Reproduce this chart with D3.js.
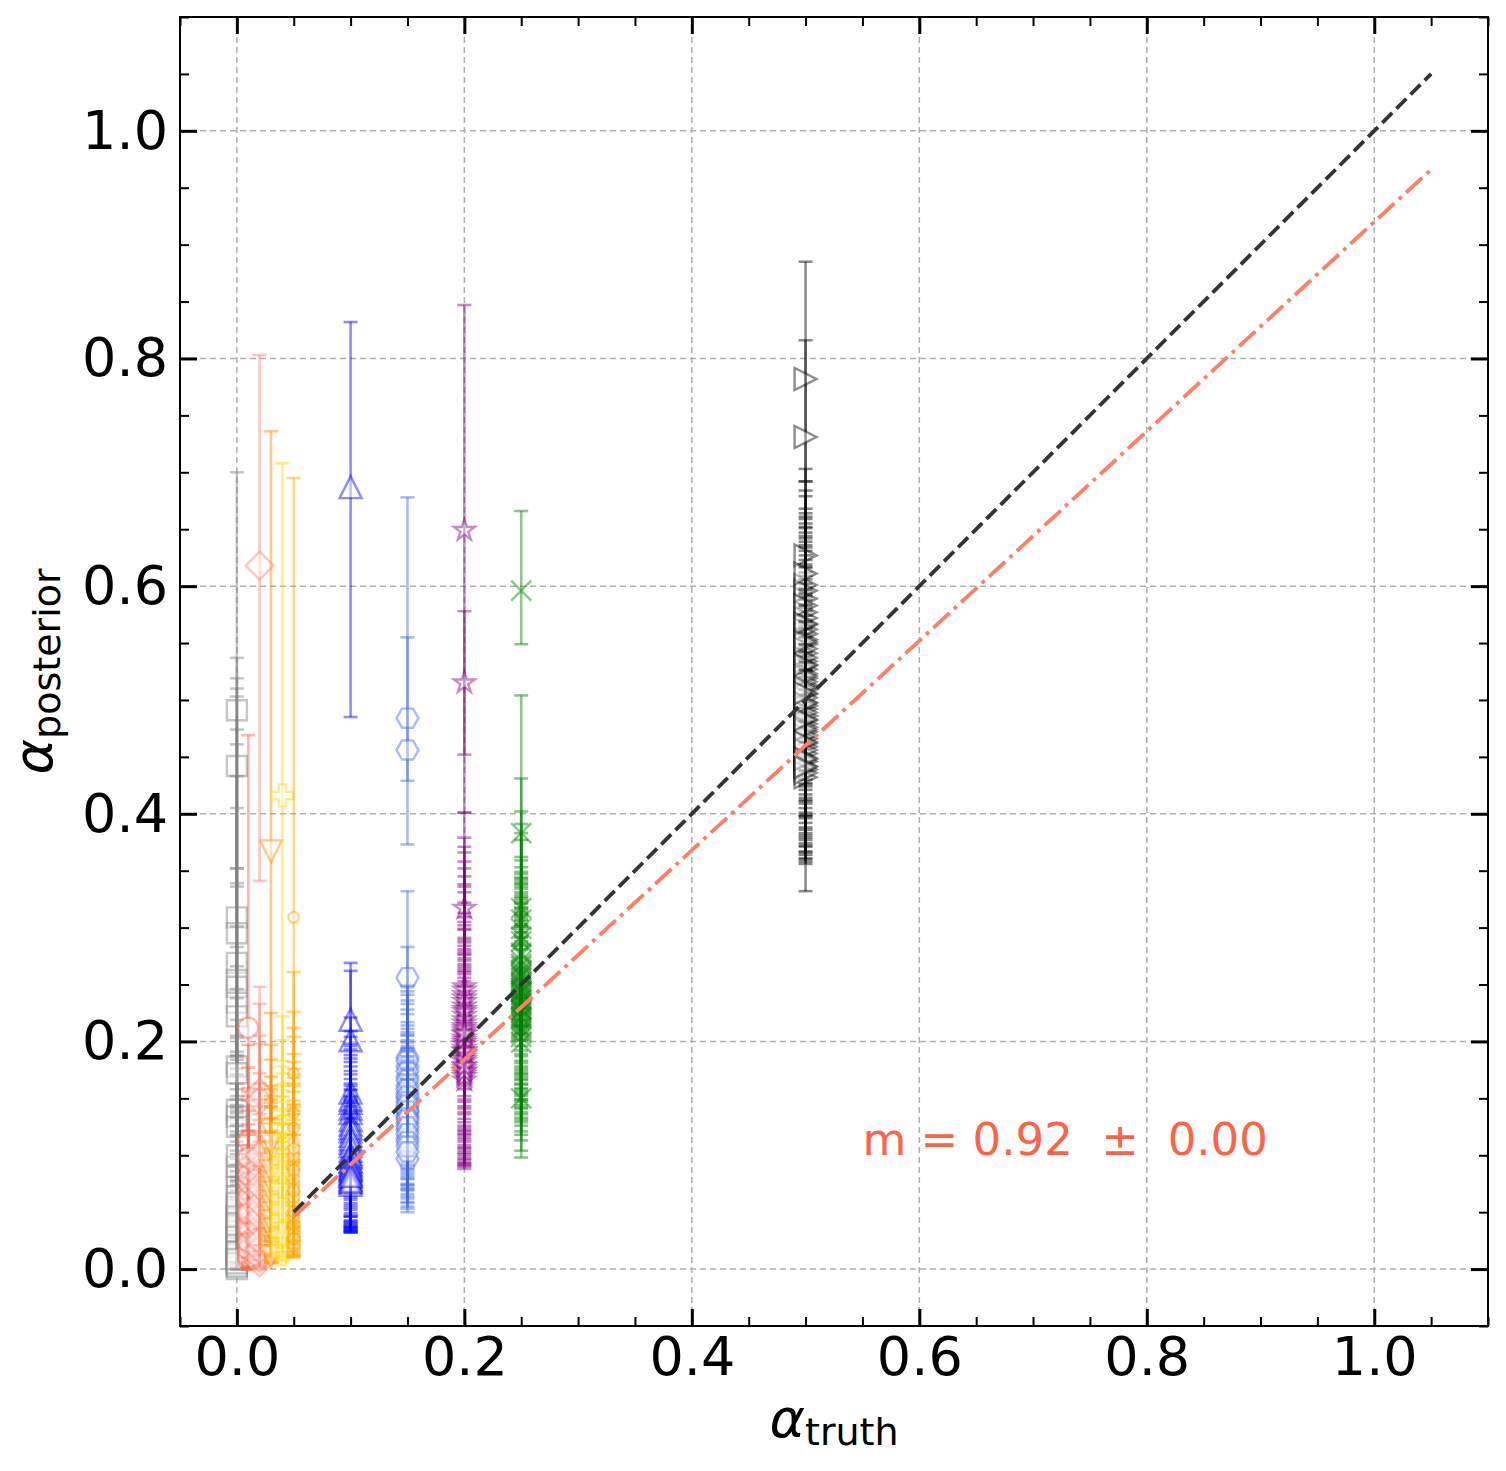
<!DOCTYPE html>
<html>
<head>
<meta charset="utf-8" />
<title>alpha posterior vs alpha truth</title>
<script src="https://d3js.org/d3.v7.min.js"></script>
<style>
    html, body {
        margin: 0;
        padding: 0;
        background-color: #fff;
    }
    svg text {
        font-family: 'DejaVu Sans', sans-serif;
    }
</style>
</head>
<body>
<div id="chart"></div>
<script>
// alpha_truth of each run group, with its colour and marker
var truthValues = [0.0, 0.01, 0.02, 0.03, 0.04, 0.05, 0.1, 0.15, 0.2, 0.25, 0.5];
var groupColors = ["gray", "tomato", "salmon", "darkorange", "gold", "orange", "blue", "royalblue", "purple", "green", "black"];
var groupMarkers = ["square", "circle", "diamond", "triDown", "plus", "smallCircle", "triUp", "hexagon", "star", "cross", "triRight"];

// [posterior, lower, upper]
var post000 = [[0.491,0.336,0.700],[0.442,0.352,0.537],[0.309,0.205,0.519],[0.295,0.188,0.510],[0.269,0.152,0.503],
    [0.254,0.141,0.474],[0.248,0.128,0.461],[0.234,0.117,0.433],[0.222,0.104,0.405],[0.178,0.083,0.352],
    [0.140,0.052,0.301],[0.134,0.061,0.283],[0.125,0.040,0.266],[0.090,0.022,0.238],[0.081,0.012,0.219],
    [0.072,0.009,0.203],[0.055,0.003,0.184],[0.047,0.002,0.163],[0.041,0.001,0.171],[0.034,0.000,0.142],
    [0.027,0.000,0.121],[0.022,0.000,0.133],[0.016,0.000,0.104],[0.011,0.000,0.092],[0.006,0.000,0.081],
    [0.003,0.000,0.069],[0.000,0.000,0.058],[0.052,0.002,0.176],[0.044,0.001,0.149],[0.037,0.000,0.137],
    [0.030,0.000,0.126],[0.019,0.000,0.112],[0.013,0.000,0.097],[0.008,0.000,0.074],[0.002,0.000,0.063],
    [0.064,0.006,0.191],[0.100,0.027,0.246],[0.172,0.078,0.339],[0.025,0.000,0.118],[0.033,0.000,0.139],
    [0.039,0.000,0.144],[0.046,0.001,0.158],[0.058,0.004,0.187],[0.015,0.000,0.101],[0.005,0.000,0.077],
    [0.009,0.000,0.086]];
var post001 = [[0.212,0.118,0.469],[0.113,0.048,0.197],[0.090,0.036,0.159],[0.069,0.021,0.148],[0.058,0.013,0.127],
    [0.046,0.009,0.118],[0.034,0.005,0.097],[0.026,0.002,0.074],[0.019,0.001,0.088],[0.014,0.000,0.079],
    [0.008,0.000,0.062],[0.041,0.007,0.109],[0.030,0.004,0.093],[0.022,0.001,0.083],[0.011,0.000,0.071],
    [0.052,0.011,0.122],[0.063,0.017,0.139],[0.076,0.027,0.152],[0.017,0.001,0.085],[0.024,0.002,0.080],
    [0.037,0.006,0.101],[0.049,0.010,0.121],[0.083,0.031,0.156],[0.098,0.040,0.177]];
var post002 = [[0.618,0.341,0.803],[0.155,0.072,0.248],[0.148,0.063,0.233],[0.090,0.031,0.198],[0.081,0.024,0.172],
    [0.043,0.011,0.131],[0.033,0.006,0.112],[0.023,0.003,0.101],[0.014,0.001,0.087],[0.006,0.000,0.069],
    [0.028,0.004,0.106],[0.019,0.002,0.094],[0.010,0.000,0.078],[0.038,0.008,0.121],[0.052,0.014,0.143],
    [0.067,0.019,0.158],[0.017,0.001,0.091],[0.025,0.003,0.103],[0.046,0.012,0.136],[0.058,0.016,0.149],
    [0.073,0.021,0.163],[0.100,0.035,0.205]];
var post003 = [[0.367,0.142,0.736],[0.122,0.052,0.225],[0.102,0.041,0.184],[0.080,0.031,0.152],[0.064,0.022,0.169],
    [0.055,0.019,0.128],[0.045,0.014,0.113],[0.031,0.010,0.118],[0.020,0.006,0.091],[0.038,0.012,0.106],
    [0.026,0.008,0.098],[0.049,0.016,0.121],[0.071,0.027,0.143],[0.092,0.036,0.161],[0.015,0.006,0.084],
    [0.011,0.005,0.077],[0.034,0.011,0.104],[0.042,0.013,0.111],[0.059,0.021,0.133],[0.067,0.024,0.146],
    [0.076,0.029,0.149],[0.086,0.033,0.158],[0.110,0.045,0.197]];
var post004 = [[0.416,0.183,0.708],[0.125,0.049,0.222],[0.102,0.038,0.201],[0.088,0.034,0.161],[0.075,0.029,0.178],
    [0.064,0.024,0.139],[0.055,0.019,0.152],[0.046,0.016,0.112],[0.037,0.012,0.119],[0.028,0.010,0.093],
    [0.033,0.011,0.106],[0.041,0.014,0.115],[0.051,0.018,0.128],[0.059,0.021,0.135],[0.069,0.026,0.147],
    [0.081,0.031,0.157],[0.095,0.036,0.172],[0.023,0.010,0.088],[0.013,0.006,0.079],[0.018,0.008,0.084],
    [0.062,0.023,0.141],[0.072,0.027,0.151],[0.085,0.032,0.163],[0.044,0.015,0.117],[0.053,0.019,0.127],
    [0.031,0.011,0.101]];
var post005 = [[0.309,0.118,0.695],[0.172,0.068,0.261],[0.137,0.051,0.226],[0.102,0.038,0.204],[0.090,0.033,0.163],
    [0.084,0.029,0.171],[0.075,0.027,0.142],[0.067,0.024,0.148],[0.055,0.019,0.131],[0.043,0.015,0.118],
    [0.035,0.012,0.101],[0.039,0.013,0.108],[0.047,0.016,0.124],[0.059,0.021,0.136],[0.071,0.025,0.145],
    [0.079,0.028,0.156],[0.095,0.035,0.168],[0.112,0.042,0.189],[0.124,0.047,0.212],[0.031,0.012,0.096],
    [0.021,0.010,0.087],[0.027,0.011,0.094],[0.051,0.018,0.127],[0.063,0.022,0.139],[0.069,0.025,0.144],
    [0.087,0.031,0.161],[0.099,0.037,0.176],[0.106,0.040,0.182]];
var post010 = [[0.687,0.485,0.832],[0.219,0.141,0.269],[0.201,0.128,0.262],[0.155,0.087,0.221],[0.146,0.079,0.204],
    [0.131,0.068,0.193],[0.121,0.061,0.182],[0.111,0.054,0.171],[0.104,0.049,0.163],[0.098,0.046,0.157],
    [0.095,0.042,0.152],[0.092,0.040,0.149],[0.088,0.038,0.146],[0.086,0.037,0.141],[0.083,0.035,0.138],
    [0.079,0.033,0.134],[0.076,0.032,0.131],[0.149,0.082,0.209],[0.141,0.076,0.198],[0.137,0.072,0.196],
    [0.127,0.066,0.188],[0.124,0.063,0.185],[0.117,0.058,0.178],[0.114,0.056,0.174],[0.108,0.052,0.167],
    [0.101,0.047,0.161],[0.099,0.046,0.158],[0.094,0.043,0.151],[0.091,0.041,0.148],[0.089,0.039,0.146],
    [0.087,0.037,0.143],[0.084,0.036,0.139],[0.081,0.034,0.136],[0.078,0.033,0.133],[0.074,0.032,0.129],
    [0.077,0.034,0.132],[0.082,0.036,0.137]];
var post015 = [[0.484,0.429,0.678],[0.456,0.373,0.555],[0.256,0.183,0.332],[0.186,0.118,0.283],[0.178,0.111,0.244],
    [0.169,0.102,0.236],[0.161,0.093,0.228],[0.155,0.088,0.217],[0.150,0.084,0.211],[0.142,0.079,0.205],
    [0.138,0.073,0.199],[0.135,0.074,0.196],[0.128,0.069,0.191],[0.122,0.064,0.184],[0.115,0.059,0.178],
    [0.097,0.050,0.163],[0.183,0.116,0.249],[0.174,0.107,0.241],[0.166,0.099,0.233],[0.158,0.091,0.224],
    [0.152,0.086,0.214],[0.147,0.082,0.208],[0.144,0.080,0.206],[0.139,0.075,0.201],[0.133,0.071,0.194],
    [0.131,0.070,0.193],[0.125,0.066,0.187],[0.119,0.062,0.181],[0.112,0.058,0.176],[0.108,0.055,0.171],
    [0.103,0.053,0.167]];
var post020 = [[0.649,0.452,0.847],[0.515,0.401,0.578],[0.317,0.221,0.401],[0.248,0.163,0.379],[0.241,0.152,0.371],
    [0.231,0.143,0.345],[0.223,0.136,0.331],[0.216,0.129,0.313],[0.209,0.121,0.302],[0.203,0.118,0.287],
    [0.199,0.114,0.291],[0.194,0.109,0.281],[0.188,0.104,0.276],[0.186,0.101,0.268],[0.182,0.099,0.271],
    [0.176,0.094,0.262],[0.171,0.091,0.256],[0.166,0.088,0.249],[0.245,0.158,0.366],[0.238,0.149,0.358],
    [0.235,0.147,0.352],[0.228,0.141,0.338],[0.226,0.138,0.336],[0.219,0.132,0.322],[0.213,0.126,0.309],
    [0.211,0.124,0.305],[0.206,0.119,0.298],[0.201,0.116,0.289],[0.197,0.112,0.284],[0.192,0.107,0.279],
    [0.191,0.106,0.277],[0.184,0.102,0.273],[0.179,0.096,0.266],[0.174,0.093,0.259],[0.169,0.090,0.253],
    [0.173,0.092,0.261],[0.178,0.097,0.264],[0.207,0.122,0.299]];
var post025 = [[0.596,0.549,0.666],[0.383,0.301,0.504],[0.317,0.238,0.431],[0.307,0.229,0.402],[0.292,0.213,0.383],
    [0.278,0.201,0.362],[0.271,0.192,0.353],[0.263,0.183,0.347],[0.256,0.176,0.338],[0.249,0.171,0.331],
    [0.243,0.166,0.326],[0.237,0.159,0.318],[0.231,0.154,0.312],[0.225,0.149,0.306],[0.219,0.142,0.299],
    [0.213,0.136,0.292],[0.207,0.131,0.286],[0.199,0.098,0.281],[0.150,0.104,0.214],[0.276,0.196,0.359],
    [0.268,0.189,0.349],[0.266,0.187,0.344],[0.261,0.181,0.341],[0.259,0.178,0.339],[0.253,0.172,0.336],
    [0.251,0.169,0.334],[0.247,0.167,0.329],[0.245,0.163,0.327],[0.241,0.162,0.322],[0.239,0.158,0.321],
    [0.234,0.156,0.316],[0.233,0.152,0.314],[0.228,0.149,0.309],[0.227,0.147,0.307],[0.222,0.144,0.303],
    [0.221,0.141,0.301],[0.216,0.138,0.296],[0.211,0.133,0.291],[0.209,0.129,0.288],[0.204,0.126,0.284],
    [0.258,0.174,0.343],[0.244,0.121,0.324],[0.236,0.113,0.317],[0.229,0.118,0.311],[0.288,0.207,0.377],
    [0.299,0.219,0.391]];
var post050 = [[0.782,0.692,0.885],[0.731,0.644,0.816],[0.627,0.541,0.703],[0.601,0.513,0.684],[0.589,0.497,0.668],
    [0.577,0.488,0.659],[0.566,0.479,0.651],[0.558,0.468,0.642],[0.549,0.462,0.634],[0.541,0.453,0.627],
    [0.534,0.448,0.619],[0.527,0.441,0.612],[0.519,0.433,0.606],[0.513,0.427,0.598],[0.505,0.421,0.591],
    [0.498,0.414,0.584],[0.492,0.409,0.578],[0.486,0.401,0.571],[0.479,0.396,0.566],[0.472,0.388,0.558],
    [0.466,0.383,0.552],[0.459,0.377,0.545],[0.453,0.371,0.539],[0.446,0.364,0.531],[0.439,0.358,0.524],
    [0.432,0.332,0.516],[0.572,0.484,0.655],[0.562,0.473,0.647],[0.553,0.466,0.639],[0.545,0.457,0.631],
    [0.537,0.451,0.623],[0.530,0.444,0.616],[0.523,0.437,0.609],[0.516,0.430,0.602],[0.509,0.424,0.595],
    [0.502,0.417,0.588],[0.495,0.411,0.581],[0.489,0.405,0.574],[0.482,0.398,0.568],[0.476,0.392,0.562],
    [0.469,0.386,0.555],[0.462,0.379,0.548],[0.456,0.374,0.542],[0.449,0.367,0.535],[0.442,0.361,0.527],
    [0.436,0.356,0.520],[0.596,0.509,0.679],[0.583,0.493,0.664],[0.611,0.526,0.692],[0.521,0.438,0.661],
    [0.474,0.372,0.563],[0.567,0.481,0.652],[0.551,0.463,0.636],[0.531,0.446,0.617],[0.511,0.426,0.597],
    [0.497,0.412,0.583],[0.483,0.399,0.569],[0.463,0.381,0.549],[0.448,0.366,0.533],[0.441,0.360,0.526],
    [0.506,0.398,0.593]];
var posteriors = [post000, post001, post002, post003, post004, post005, post010, post015, post020, post025, post050];

// one-to-one line and the fitted line (slope 0.92)
var lineX = [0.05, 1.05];
var identityY = [0.05, 1.05];
var fitY = [0.046, 0.966];
var fitLabel = "m = 0.92  \u00b1  0.00";
var fitLabelPos = [0.55, 0.10];

var majorTicks = [0.0, 0.2, 0.4, 0.6, 0.8, 1.0];
var minorTicks = [-0.05, 0.05, 0.1, 0.15, 0.25, 0.3, 0.35, 0.45, 0.5, 0.55, 0.65, 0.7, 0.75, 0.85, 0.9, 0.95, 1.05, 1.1];

var width = 1506, height = 1471;
var plotL = 180, plotR = 1488, plotT = 17, plotB = 1326;

var x = d3.scaleLinear().domain([-0.05, 1.1]).range([plotL, plotR]);
var y = d3.scaleLinear().domain([-0.05, 1.1]).range([plotB, plotT]);

var svg = d3.select("#chart").append("svg")
    .attr("width", width)
    .attr("height", height);

svg.append("defs").append("clipPath").attr("id", "clip")
    .append("rect")
    .attr("x", plotL).attr("y", plotT)
    .attr("width", plotR - plotL).attr("height", plotB - plotT);

// grid
var grid = svg.append("g");
majorTicks.forEach(function(t) {
    grid.append("line")
        .attr("x1", x(t)).attr("x2", x(t)).attr("y1", plotT).attr("y2", plotB)
        .attr("stroke", "#b0b0b0").attr("stroke-width", 1.5).attr("stroke-dasharray", "6,4");
    grid.append("line")
        .attr("x1", plotL).attr("x2", plotR).attr("y1", y(t)).attr("y2", y(t))
        .attr("stroke", "#b0b0b0").attr("stroke-width", 1.5).attr("stroke-dasharray", "6,4");
});

// marker shapes, sizes in px
function markerPath(kind) {
    var h, p;
    if (kind == "square") { h = 10; return "M" + (-h) + "," + (-h) + "H" + h + "V" + h + "H" + (-h) + "Z"; }
    if (kind == "circle") { return d3.symbol(d3.symbolCircle, Math.PI * 100)(); }
    if (kind == "smallCircle") { return d3.symbol(d3.symbolCircle, Math.PI * 28)(); }
    if (kind == "diamond") { h = 14; return "M0," + (-h) + "L" + h + ",0L0," + h + "L" + (-h) + ",0Z"; }
    if (kind == "triUp") { h = 11; return "M0," + (-h) + "L" + h + "," + h + "L" + (-h) + "," + h + "Z"; }
    if (kind == "triDown") { h = 11; return "M0," + h + "L" + h + "," + (-h) + "L" + (-h) + "," + (-h) + "Z"; }
    if (kind == "triRight") { h = 11; return "M" + h + ",0L" + (-h) + "," + (-h) + "L" + (-h) + "," + h + "Z"; }
    if (kind == "plus") {
        h = 11; var a = 11 / 3;
        return "M" + (-a) + "," + (-h) + "H" + a + "V" + (-a) + "H" + h + "V" + a + "H" + a + "V" + h +
            "H" + (-a) + "V" + a + "H" + (-h) + "V" + (-a) + "H" + (-a) + "Z";
    }
    if (kind == "hexagon") {
        p = d3.range(6).map(function(i) { var t = i * Math.PI / 3; return [11 * Math.cos(t), 11 * Math.sin(t)]; });
        return "M" + p.join("L") + "Z";
    }
    if (kind == "star") {
        p = d3.range(10).map(function(i) {
            var r = i % 2 == 0 ? 11 : 11 * 0.382;
            var t = -Math.PI / 2 + i * Math.PI / 5;
            return [r * Math.cos(t), r * Math.sin(t)];
        });
        return "M" + p.join("L") + "Z";
    }
    if (kind == "cross") { h = 10; return "M" + (-h) + "," + (-h) + "L" + h + "," + h + "M" + (-h) + "," + h + "L" + h + "," + (-h); }
}

var data = svg.append("g").attr("clip-path", "url(#clip)");
var alpha = 0.45;
var capHalf = 7;

truthValues.forEach(function(tv, gi) {
    var color = groupColors[gi];
    var shape = markerPath(groupMarkers[gi]);
    var isLine = groupMarkers[gi] == "cross";
    posteriors[gi].forEach(function(p) {
        var cx = x(tv);
        var pt = data.append("g");
        pt.append("line")
            .attr("x1", cx).attr("x2", cx).attr("y1", y(p[1])).attr("y2", y(p[2]))
            .attr("stroke", color).attr("stroke-opacity", alpha).attr("stroke-width", 2.6);
        [p[1], p[2]].forEach(function(v) {
            pt.append("line")
                .attr("x1", cx - capHalf).attr("x2", cx + capHalf).attr("y1", y(v)).attr("y2", y(v))
                .attr("stroke", color).attr("stroke-opacity", alpha).attr("stroke-width", 2.6);
        });
        pt.append("path")
            .attr("d", shape)
            .attr("transform", "translate(" + cx + "," + y(p[0]) + ")")
            .attr("fill", isLine ? "none" : "white")
            .attr("fill-opacity", alpha)
            .attr("stroke", color)
            .attr("stroke-opacity", alpha)
            .attr("stroke-width", 2.4);
    });
});

// reference lines
var line = d3.line().x(function(d) { return x(d[0]); }).y(function(d) { return y(d[1]); });
svg.append("path")
    .datum(lineX.map(function(v, i) { return [v, identityY[i]]; }))
    .attr("d", line)
    .attr("fill", "none").attr("stroke", "#333").attr("stroke-width", 3.8)
    .attr("stroke-dasharray", "14,6");
svg.append("path")
    .datum(lineX.map(function(v, i) { return [v, fitY[i]]; }))
    .attr("d", line)
    .attr("fill", "none").attr("stroke", "#ff7f66").attr("stroke-width", 3.8)
    .attr("stroke-dasharray", "22,6,3.8,6");

svg.append("text")
    .attr("x", x(fitLabelPos[0])).attr("y", y(fitLabelPos[1]))
    .style("white-space", "pre")
    .attr("font-size", 45)
    .attr("fill", "tomato")
    .text(fitLabel);

// axes, ticks pointing inward
function styleAxis(g, w) {
    g.select(".domain").remove();
    g.selectAll(".tick line").attr("stroke", "#000").attr("stroke-width", w);
    g.selectAll(".tick text").attr("font-size", 54).attr("fill", "#000")
        .style("font-family", "'DejaVu Sans', sans-serif");
}
var fmt = d3.format(".1f");

svg.append("g").attr("transform", "translate(0," + plotB + ")")
    .call(d3.axisBottom(x).tickValues(majorTicks).tickFormat(fmt).tickSize(-17).tickPadding(11))
    .call(styleAxis, 3);
svg.append("g").attr("transform", "translate(0," + plotB + ")")
    .call(d3.axisBottom(x).tickValues(minorTicks).tickFormat("").tickSize(-9))
    .call(styleAxis, 2);
svg.append("g").attr("transform", "translate(0," + plotT + ")")
    .call(d3.axisTop(x).tickValues(majorTicks).tickFormat("").tickSize(-17))
    .call(styleAxis, 3);
svg.append("g").attr("transform", "translate(0," + plotT + ")")
    .call(d3.axisTop(x).tickValues(minorTicks).tickFormat("").tickSize(-9))
    .call(styleAxis, 2);
svg.append("g").attr("transform", "translate(" + plotL + ",0)")
    .call(d3.axisLeft(y).tickValues(majorTicks).tickFormat(fmt).tickSize(-17).tickPadding(12))
    .call(styleAxis, 3);
svg.append("g").attr("transform", "translate(" + plotL + ",0)")
    .call(d3.axisLeft(y).tickValues(minorTicks).tickFormat("").tickSize(-9))
    .call(styleAxis, 2);
svg.append("g").attr("transform", "translate(" + plotR + ",0)")
    .call(d3.axisRight(y).tickValues(majorTicks).tickFormat("").tickSize(-17))
    .call(styleAxis, 3);
svg.append("g").attr("transform", "translate(" + plotR + ",0)")
    .call(d3.axisRight(y).tickValues(minorTicks).tickFormat("").tickSize(-9))
    .call(styleAxis, 2);

svg.append("rect")
    .attr("x", plotL).attr("y", plotT)
    .attr("width", plotR - plotL).attr("height", plotB - plotT)
    .attr("fill", "none").attr("stroke", "#000").attr("stroke-width", 2);

// axis labels
var xl = svg.append("text")
    .attr("x", (plotL + plotR) / 2).attr("y", 1437)
    .attr("text-anchor", "middle").attr("fill", "#000");
xl.append("tspan").attr("font-size", 54).attr("font-style", "italic").text("\u03b1");
xl.append("tspan").attr("font-size", 38).attr("dy", 8).text("truth");

var yl = svg.append("text")
    .attr("transform", "translate(52," + ((plotT + plotB) / 2) + ") rotate(-90)")
    .attr("text-anchor", "middle").attr("fill", "#000");
yl.append("tspan").attr("font-size", 54).attr("font-style", "italic").text("\u03b1");
yl.append("tspan").attr("font-size", 38).attr("dy", 8).text("posterior");
</script>
</body>
</html>
